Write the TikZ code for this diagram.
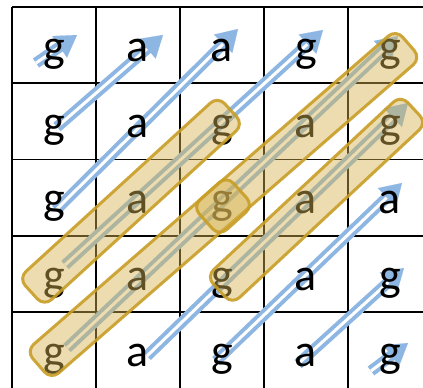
\documentclass[tikz,border=0pt]{standalone}
\usepackage{fontspec}
\setmainfont{Carlito}
\usetikzlibrary{arrows.meta,calc}
\definecolor{arrowblue}{RGB}{141,183,226}
\definecolor{boxline}{RGB}{200,158,38}
\definecolor{boxfill}{RGB}{214,178,80}
\begin{document}
\begin{tikzpicture}[x=1pt,y=-1pt,
  letter/.style={anchor=base, font=\fontsize{46}{46}\selectfont, inner sep=0pt},
  gridline/.style={line width=1.3pt, black},
  dbl/.style={draw=arrowblue, line width=4pt, double=white, double distance=3pt, shorten >=16pt},
  hd/.style={arrowblue, line width=0.1pt, -{Triangle[length=21pt,width=26pt]}},
  hl/.style={rectangle, draw=boxline, line width=3pt, fill=boxfill, fill opacity=0.45, draw opacity=0.9, rounded corners=10pt, inner sep=0pt}]
\useasboundingbox (0,0) rectangle (423,388);
\clip (0,0) rectangle (423,388);
\fill[white] (0,0) rectangle (423,388);
% grid
\foreach \x in {12,96,180,264,348} \draw[gridline] (\x,7) -- (\x,395);
\foreach \y in {7,83,159.5,236,312} \draw[gridline] (12,\y) -- (440,\y);
% arrows
\foreach \i/\tx/\ty/\hx/\hy in {1/36/63/77/35, 2/57/127/163/35, 3/56/210/238/29, 4/65/265/323/30, 5/67/348/398/36, 6/147/356/408/103, 7/216/361/402/183, 8/298/364/404/268, 9/371/371/408/343}{
  \coordinate (t\i) at (\tx,\ty);
  \coordinate (h\i) at (\hx,\hy);
  \draw[dbl] (t\i) -- (h\i);
  \draw[hd] ($(h\i)!21pt!(t\i)$) -- (h\i);
}
% letters
\foreach \r/\yb/\row in {0/61/{g,a,a,g,g}, 1/137/{g,a,g,a,g}, 2/213/{g,a,g,a,a}, 3/290/{g,a,g,a,g}, 4/366/{g,a,g,a,g}}{
  \foreach \ch [count=\c from 0] in \row {
    \node[letter] (L\r\c) at ({54+84*\c},\yb) {\ch};
  }
}
% highlight boxes
\node[hl, minimum width=270pt, minimum height=38pt, rotate=42.4] (bA) at (131,201.25) {};
\node[hl, minimum width=490pt, minimum height=38pt, rotate=41] (bB) at (223.5,204.5) {};
\node[hl, minimum width=46pt, minimum height=40pt, rotate=42] (bC) at (223,206) {};
\node[hl, minimum width=266pt, minimum height=38pt, rotate=43] (bD) at (316.5,199.75) {};
\end{tikzpicture}
\end{document}
